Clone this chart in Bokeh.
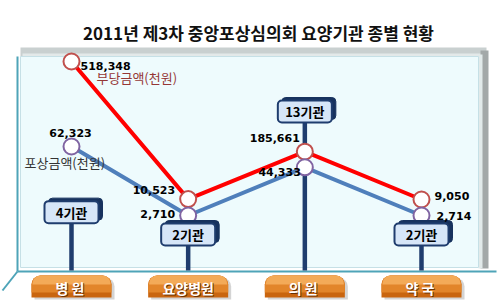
from bokeh.plotting import figure
from bokeh.models import Range1d
from bokeh.embed import file_html
from bokeh.resources import INLINE
from bokeh.core.properties import value

# ---------------- data ----------------
title = "2011년 제3차 중앙포상심의회 요양기관 종별 현황"
categories = ["병  원", "요양병원", "의  원", "약  국"]
cat_index = [0, 1, 2, 3]
unfair = [518348, 10523, 185661, 9050]      # 부당금액(천원)
reward = [62323, 2710, 44333, 2714]         # 포상금액(천원)
agencies = [4, 2, 13, 2]
agency_labels = ["4기관", "2기관", "13기관", "2기관"]
unfair_name = "부당금액(천원)"
reward_name = "포상금액(천원)"

W, H = 500, 306
KR = value("Noto Sans CJK KR")
NUM = value("DejaVu Sans")


def lin_range(v_hi, p_hi, v_lo, p_lo, size=H):
    """vertical range so that v_hi sits p_hi px from top, v_lo at p_lo px."""
    upp = (v_hi - v_lo) / (p_lo - p_hi)
    end = v_hi + p_hi * upp
    return Range1d(start=end - size * upp, end=end), upp


# x: category index -> pixels
x_upp = (cat_index[-1] - cat_index[0]) / (421 - 71)
x_start = cat_index[0] - 71 * x_upp
x_range = Range1d(start=x_start, end=x_start + W * x_upp)

r_red, red_upp = lin_range(max(unfair), 61, min(unfair), 199)
r_blue, blue_upp = lin_range(max(reward), 146, min(reward), 215)
r_cnt, cnt_upp = lin_range(max(agencies), 111, min(agencies), 234)
cnt_floor = r_cnt.end - 270 * cnt_upp

p = figure(width=W, height=H, x_range=x_range, y_range=Range1d(start=H, end=0),
           output_backend="svg", toolbar_location=None, min_border=0,
           x_axis_type=None, y_axis_type=None, outline_line_color=None,
           background_fill_color="white", border_fill_color="white")
p.grid.visible = False
p.extra_x_ranges = {"px": Range1d(0, W)}
p.extra_y_ranges = {"red": r_red, "blue": r_blue, "cnt": r_cnt}

# ---------------- 3D chart box ----------------
p.quad(left=20, right=486, top=47, bottom=56, x_range_name="px",
       fill_color="#c9d0d0", line_color=None)
p.quad(left=22, right=484, top=53, bottom=56, x_range_name="px",
       fill_color="#e3e9e9", line_color=None)
p.quad(left=480, right=488, top=50, bottom=268, x_range_name="px",
       fill_color="#a3a8a8", line_color=None)
p.quad(left=478, right=482, top=54, bottom=268, x_range_name="px",
       fill_color="#e2eaea", line_color=None)
p.quad(left=20, right=478, top=56, bottom=267, x_range_name="px",
       fill_color="#eefbfd", line_color="#c6e0e6", line_width=1)
p.line(x=[17, 17], y=[56, 271], x_range_name="px", line_color="#4ea4b8", line_width=2)
p.line(x=[17, 496], y=[271, 271], x_range_name="px", line_color="#4ea4b8", line_width=2)
p.line(x=[17, 2], y=[271, 290], x_range_name="px", line_color="#4ea4b8", line_width=2)

# ---------------- title ----------------
p.text(x=[258], y=[32], text=[title], x_range_name="px",
       text_font=KR, text_font_style="bold", text_font_size="17px",
       text_color="#111111", text_align="center", text_baseline="middle")

# ---------------- stems ----------------
p.segment(x0=cat_index, y0=agencies, x1=cat_index, y1=[cnt_floor] * len(agencies),
          y_range_name="cnt", line_color="#1f3d6e", line_width=4.5)

# ---------------- category labels ----------------
sx = [c + 3 * x_upp for c in cat_index]
p.rect(x=sx, y=[288] * 4, width=80, height=22, width_units="screen",
       height_units="screen", fill_color="#b8b8b8", fill_alpha=0.6,
       line_color=None, border_radius=(9, 9, 0, 0))
p.rect(x=cat_index, y=[286] * 4, width=80, height=22, width_units="screen",
       height_units="screen", fill_color="#c9650f", line_color=None,
       border_radius=(9, 9, 0, 0))
p.rect(x=cat_index, y=[283.5] * 4, width=80, height=17, width_units="screen",
       height_units="screen", fill_color="#e2852a", line_color=None,
       border_radius=(9, 9, 0, 0))
p.rect(x=cat_index, y=[279.5] * 4, width=78, height=9, width_units="screen",
       height_units="screen", fill_color="#f3aa58", line_color=None,
       border_radius=(8, 8, 0, 0))
p.text(x=cat_index, y=[287] * 4, text=categories, x_offset=1, y_offset=1,
       text_font=KR, text_font_style="bold", text_font_size="14px",
       text_color="#6b3000", text_align="center", text_baseline="middle")
p.text(x=cat_index, y=[287] * 4, text=categories,
       text_font=KR, text_font_style="bold", text_font_size="14px",
       text_color="white", text_align="center", text_baseline="middle")

# ---------------- lines & markers ----------------
p.line(cat_index, reward, y_range_name="blue", line_color="#4f7fbb", line_width=4)
p.line(cat_index, unfair, y_range_name="red", line_color="#ff0000", line_width=4)
p.scatter(cat_index, unfair, y_range_name="red", size=16, fill_color="white",
          line_color="#c0504d", line_width=2)
p.scatter(cat_index, reward, y_range_name="blue", size=16, fill_color="white",
          line_color="#8064a2", line_width=2)

# ---------------- agency boxes ----------------
shx = [c + 4 * x_upp for c in cat_index]
shy = [a + 3 * cnt_upp for a in agencies]
p.rect(x=shx, y=shy, width=54, height=22, width_units="screen", height_units="screen",
       y_range_name="cnt", fill_color="#17325e", line_color="#17325e", border_radius=4)
p.rect(x=cat_index, y=agencies, width=54, height=22, width_units="screen",
       height_units="screen", y_range_name="cnt", fill_color="#d6e6f8",
       line_color="#1f3d6e", line_width=2, border_radius=4)
p.text(x=cat_index, y=agencies, text=agency_labels, y_range_name="cnt",
       text_font=KR, text_font_style="bold", text_font_size="13px",
       text_color="black", text_align="center", text_baseline="middle")

# ---------------- value labels ----------------
red_style = [("left", 9, 4), ("right", -13, -9), ("right", -5, -14), ("left", 13, -4)]
blue_style = [("center", -1, -14), ("right", -13, -2), ("right", -4, 5), ("left", 15, 1)]
for i in range(len(cat_index)):
    al, dx, dy = red_style[i]
    p.text(x=[cat_index[i]], y=[unfair[i]], text=[f"{unfair[i]:,}"], y_range_name="red",
           x_offset=dx, y_offset=dy, text_font=NUM, text_font_style="bold",
           text_font_size="11px", text_color="black", text_align=al,
           text_baseline="middle")
    al, dx, dy = blue_style[i]
    p.text(x=[cat_index[i]], y=[reward[i]], text=[f"{reward[i]:,}"], y_range_name="blue",
           x_offset=dx, y_offset=dy, text_font=NUM, text_font_style="bold",
           text_font_size="11px", text_color="black", text_align=al,
           text_baseline="middle")

# series names
p.text(x=[cat_index[0]], y=[unfair[0]], text=[unfair_name], y_range_name="red",
       x_offset=25, y_offset=16, text_font=KR, text_font_size="13px",
       text_color="#953735", text_align="left", text_baseline="middle")
p.text(x=[cat_index[0]], y=[reward[0]], text=[reward_name], y_range_name="blue",
       x_offset=-47, y_offset=16, text_font=KR, text_font_size="13px",
       text_color="#333333", text_align="left", text_baseline="middle")

open("out.html", "w").write(file_html(p, INLINE))
